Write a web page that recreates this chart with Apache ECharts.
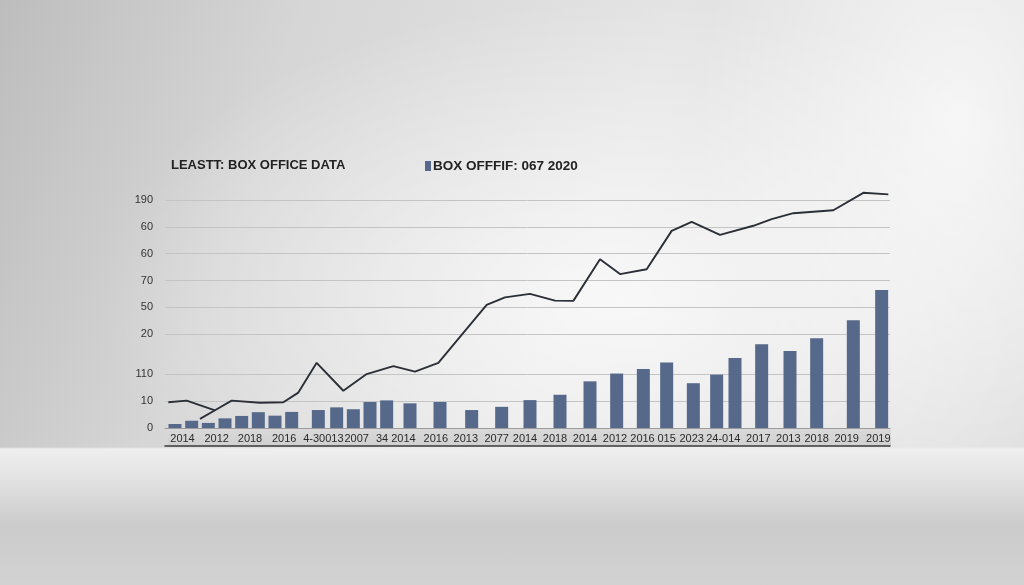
<!doctype html>
<html>
<head>
<meta charset="UTF-8">
<title>Box Office Data</title>
<style>
	html, body {
		margin: 0;
		padding: 0;
		width: 1024px;
		height: 585px;
		overflow: hidden;
	}
	body {
		position: relative;
		background:
			linear-gradient(180deg, rgba(0,0,0,0) 0px, rgba(0,0,0,0) 447px, #efefef 449px, #e2e2e2 480px, #cbcbcb 525px, #d2d2d2 585px),
			radial-gradient(ellipse 520px 300px at 620px 300px, rgba(255,255,255,0.75), rgba(255,255,255,0) 100%),
			radial-gradient(ellipse 260px 380px at 960px 120px, rgba(255,255,255,0.7), rgba(255,255,255,0) 100%),
			linear-gradient(110deg, #bdbdbd 0%, #d6d6d6 25%, #e4e4e4 55%, #dcdcdc 100%);
	}
	#band {
		position: absolute;
		left: 168px;
		top: 429px;
		width: 723px;
		height: 17px;
		background: linear-gradient(180deg, #d9d9d9, #d0d0d0);
	}
	#chart {
		position: absolute;
		left: 0;
		top: 0;
		width: 1024px;
		height: 585px;
	}
</style>
</head>
<body>
<div id="band"></div>
<div id="chart"></div>
<script src="https://cdn.jsdelivr.net/npm/echarts@6/dist/echarts.min.js"></script>
<script type="text/javascript">
	// 柱子位置（横轴单位）与高度
	var barPos = [0.6, 1.6, 2.6, 3.6, 4.6, 5.6, 6.6, 7.6, 9.2, 10.3, 11.3, 12.3, 13.3, 14.7, 16.5, 18.4,
		20.2, 21.9, 23.7, 25.5, 27.1, 28.7, 30.1, 31.7, 33.1, 34.2, 35.8, 37.5, 39.1, 41.3, 43.0];
	var barValues = [1.5, 2.7, 1.9, 3.6, 4.5, 5.9, 4.6, 6.0, 6.7, 7.7, 7.0, 9.7, 10.3, 9.2, 9.7, 6.7,
		7.9, 10.4, 12.4, 17.4, 20.3, 22.0, 24.4, 16.7, 19.9, 26.1, 31.2, 28.7, 33.5, 40.2, 51.5];

	// 折线
	var linePos = [0.2, 1.3, 3.0, 4.0, 5.7, 7.1, 8.0, 9.1, 10.7, 12.1, 13.7, 15.0, 16.4, 19.3, 20.4,
		21.9, 23.4, 24.5, 26.1, 27.3, 28.9, 30.4, 31.6, 33.3, 35.3, 36.4, 37.7, 40.1, 41.9, 43.4];
	var lineValues = [9.6, 10.2, 6.6, 10.2, 9.4, 9.6, 13.2, 24.3, 13.9, 20.1, 23.1, 21.0, 24.3, 45.9, 48.7,
		50.0, 47.5, 47.4, 62.9, 57.4, 59.2, 73.5, 76.9, 72.0, 75.4, 77.9, 80.1, 81.2, 87.7, 87.1];
	var tailPos = [2.1, 3.0];
	var tailValues = [3.4, 6.6];

	// 横轴标签
	var xLabelPos = [1.05, 3.1, 5.1, 7.15, 9.5, 11.5, 13.85, 16.25, 18.05, 19.9, 21.6, 23.4, 25.2,
		27.0, 28.65, 30.1, 31.6, 33.5, 35.6, 37.4, 39.1, 40.9, 42.8];
	var xLabels = ['2014', '2012', '2018', '2016', '4-30013', '2007', '34 2014', '2016', '2013', '2077',
		'2014', '2018', '2014', '2012', '2016', '015', '2023', '24-014', '2017', '2013', '2018', '2019', '2019'];

	// 纵轴刻度
	var yTickPos = [0, 10, 20, 35, 45, 55, 65, 75, 85];
	var yLabels = ['0', '10', '110', '20', '50', '70', '60', '60', '190'];

	function pairs(xs, ys) {
		var arr = new Array();
		for(var i = 0; i < xs.length; i++) {
			arr[i] = [xs[i], ys[i]];
		}
		return arr;
	}

	var FONT = '"Liberation Sans", Arial, sans-serif';

	var option = {
		animation: false,
		title: {
			text: 'LEASTT: BOX OFFICE DATA',
			left: 171,
			top: 159,
			padding: 0,
			textStyle: {
				fontFamily: FONT,
				fontSize: 13,
				fontWeight: 'bold',
				color: '#222'
			}
		},
		legend: {
			data: ['BOX OFFFIF: 067 2020'],
			left: 425,
			top: 159,
			padding: 0,
			icon: 'rect',
			itemWidth: 6,
			itemHeight: 10,
			textStyle: {
				fontFamily: FONT,
				fontSize: 13.5,
				fontWeight: 'bold',
				color: '#222',
				padding: [0, 0, 0, -3]
			}
		},
		grid: {
			left: 165,
			right: 134,
			top: 192,
			bottom: 157
		},
		xAxis: [{
			type: 'value',
			min: 0,
			max: 43.5,
			splitLine: { show: false },
			axisLine: { show: true, lineStyle: { color: '#9a9a9a', width: 1 } },
			axisTick: { show: false, customValues: xLabelPos },
			axisLabel: {
				customValues: xLabelPos,
				margin: 5,
				fontFamily: FONT,
				fontSize: 11,
				color: '#2a2a2a',
				formatter: function(v) {
					var k = xLabelPos.indexOf(v);
					return k >= 0 ? xLabels[k] : '';
				}
			}
		}, {
			type: 'value',
			position: 'bottom',
			offset: 18,
			min: 0,
			max: 43.5,
			splitLine: { show: false },
			axisLine: { show: true, lineStyle: { color: '#3a3a3a', width: 1.5 } },
			axisTick: { show: false },
			axisLabel: { show: false }
		}],
		yAxis: {
			type: 'value',
			min: 0,
			max: 88,
			axisLine: { show: false },
			axisTick: { show: false, customValues: yTickPos },
			splitLine: { show: true, lineStyle: { color: '#c4c4c4', width: 1 } },
			axisLabel: {
				customValues: yTickPos,
				margin: 12,
				fontFamily: FONT,
				fontSize: 11,
				color: '#333',
				formatter: function(v) {
					var k = yTickPos.indexOf(v);
					return k >= 0 ? yLabels[k] : '';
				}
			}
		},
		series: [{
			name: 'BOX OFFFIF: 067 2020',
			type: 'bar',
			barWidth: 13,
			data: pairs(barPos, barValues),
			itemStyle: { color: '#56698a' }
		}, {
			name: 'trend',
			type: 'line',
			data: pairs(linePos, lineValues),
			symbol: 'none',
			lineStyle: { color: '#2b2f38', width: 1.9 }
		}, {
			name: 'trend-tail',
			type: 'line',
			data: pairs(tailPos, tailValues),
			symbol: 'none',
			lineStyle: { color: '#2b2f38', width: 1.9 }
		}]
	};

	var chart = echarts.init(document.getElementById('chart'));
	chart.setOption(option);
</script>
</body>
</html>
